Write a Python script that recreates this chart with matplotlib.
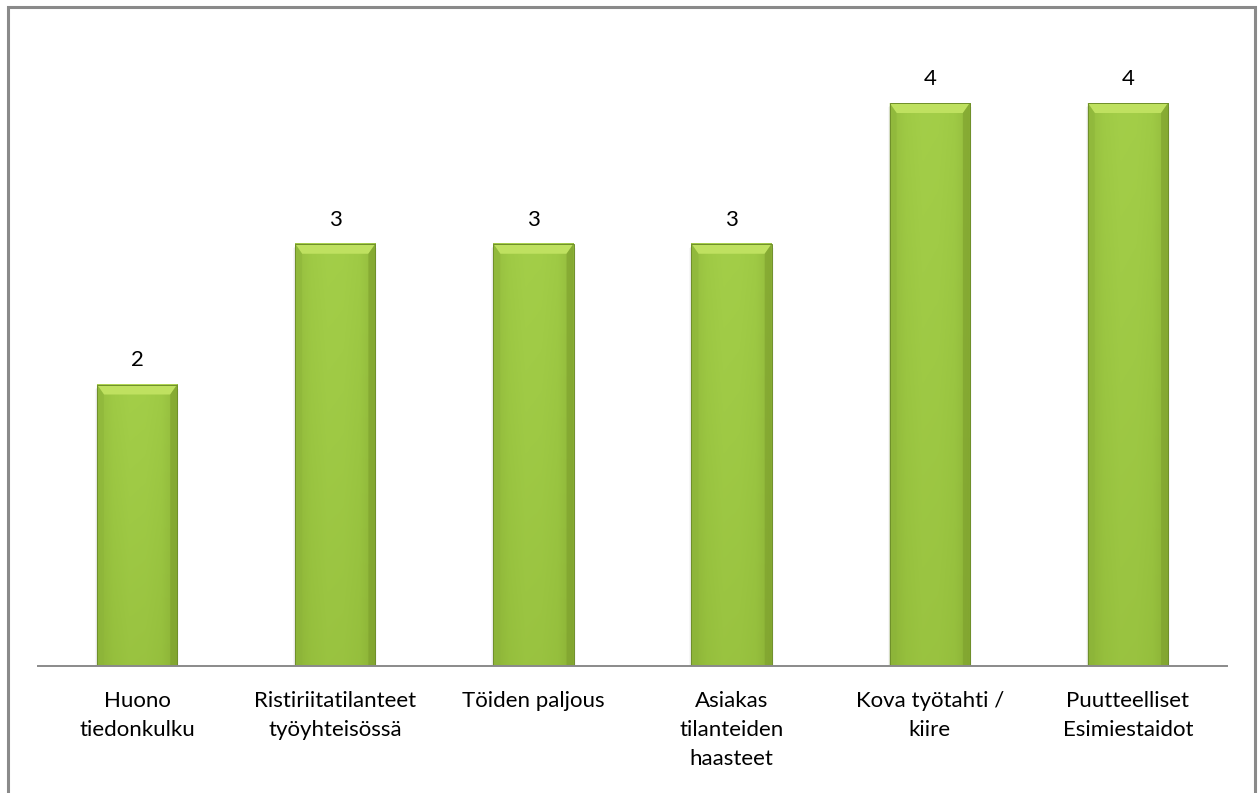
import numpy as np
import matplotlib
matplotlib.use("Agg")
import matplotlib.pyplot as plt
from matplotlib.patches import Rectangle, Polygon
from matplotlib.colors import LinearSegmentedColormap

categories = [
    "Huono\ntiedonkulku",
    "Ristiriitatilanteet\ntyöyhteisössä",
    "Töiden paljous",
    "Asiakas\ntilanteiden\nhaasteet",
    "Kova työtahti /\nkiire",
    "Puutteelliset\nEsimiestaidot",
]
values = [2, 3, 3, 3, 4, 4]

W, H, DPI = 1259, 793, 100
plt.rcParams["font.family"] = ["Lato", "DejaVu Sans"]

fig = plt.figure(figsize=(W / DPI, H / DPI), dpi=DPI)
fig.patch.set_facecolor("white")

# outer chart frame (open at the bottom)
fig.add_artist(Rectangle((8 / W, -0.05), (1255 - 8) / W, (H - 7) / H + 0.05,
                         transform=fig.transFigure, fill=False,
                         edgecolor="#8a8a8a", linewidth=2.2))

ax = fig.add_axes([38 / W, 127 / H, (1227 - 38) / W, 0.7987])
x = np.arange(len(categories))
bar_w = 0.405
ax.set_xlim(-0.5, len(categories) - 0.5)
ax.set_ylim(0, 4.5)

bars = ax.bar(x, values, width=bar_w, color="#9cc744", zorder=2)

# pixel -> data scale factors
px_x = (len(categories)) / (1227 - 38)
px_y = 4.5 / (0.7987 * H)

body_cmap = LinearSegmentedColormap.from_list(
    "body", ["#86aa34", "#98c33f", "#a0cb46", "#9fca45", "#98c33f", "#80a32f"])
vert_cmap = LinearSegmentedColormap.from_list(
    "vert", ["#93bb3b", "#9cc743", "#a6d14b"])

for rect in bars:
    x0, y0 = rect.get_x(), rect.get_y()
    w, h = rect.get_width(), rect.get_height()
    rect.set_visible(False)
    # soft drop shadow
    for k, a in enumerate([0.10, 0.06, 0.03]):
        ax.add_patch(Rectangle((x0 - k * px_x, y0 - (2 + k) * px_y),
                               w + 2 * k * px_x, h,
                               color="#000000", alpha=a, lw=0, zorder=1))
    # body gradient: vertical tint blended with darker side edges
    n = 200
    hx = np.linspace(0, 1, n)
    vy = np.linspace(0, 1, 100)[:, None]
    base = vert_cmap(vy * np.ones((1, n)))
    side = body_cmap(np.ones((100, 1)) * hx[None, :])
    img = 0.5 * base + 0.5 * side
    img[..., 3] = 1
    ax.imshow(img, extent=(x0, x0 + w, y0, y0 + h), origin="lower",
              aspect="auto", zorder=2, interpolation="bilinear")
    # bevel edges
    bx, by = 7 * px_x, 10 * px_y
    top = y0 + h
    ax.add_patch(Polygon([(x0, top), (x0 + w, top), (x0 + w - bx, top - by),
                          (x0 + bx, top - by)], closed=True,
                         color="#bfe160", lw=0, zorder=3))
    ax.add_patch(Polygon([(x0, top), (x0 + bx, top - by), (x0 + bx, y0),
                          (x0, y0)], closed=True,
                         color="#8db53a", lw=0, zorder=3, alpha=0.55))
    ax.add_patch(Polygon([(x0 + w, top), (x0 + w - bx, top - by),
                          (x0 + w - bx, y0), (x0 + w, y0)], closed=True,
                         color="#7d9f2d", lw=0, zorder=3, alpha=0.6))
    ax.add_patch(Rectangle((x0, y0), w, h, fill=False,
                           edgecolor="#6f8f2a", lw=0.7, zorder=4))

for xi, v in zip(x, values):
    ax.text(xi, v + 0.1, f"{v}", ha="center", va="bottom",
            fontsize=16, color="black")

for s in ["top", "right", "left"]:
    ax.spines[s].set_visible(False)
ax.spines["bottom"].set_color("#8a8a8a")
ax.spines["bottom"].set_linewidth(1.4)
ax.spines["bottom"].set_zorder(5)
ax.set_yticks([])
ax.set_xticks(x)
ax.set_xticklabels(categories, fontsize=16, linespacing=1.55)
ax.tick_params(axis="x", length=0, pad=18)
ax.set_facecolor("none")

fig.savefig("out.png", dpi=DPI, facecolor="white")
